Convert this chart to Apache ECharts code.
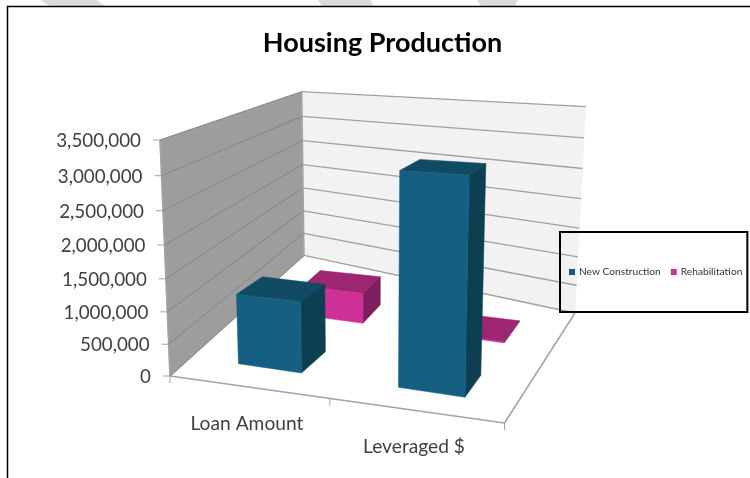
<!DOCTYPE html>
<html>
<head>
<meta charset="utf-8">
<style>html,body{margin:0;padding:0;background:#fff}#chart{width:750px;height:478px}</style>
<script src="https://cdn.jsdelivr.net/npm/echarts@6/dist/echarts.min.js"></script>
</head>
<body>
<div id="chart"></div>
<script>
// Housing production by funding measure
const categories = ['Loan Amount', 'Leveraged $'];
const newConstruction = [1115000, 3150000];
const rehabilitation = [535000, 15000];
const tickValues = [0, 500000, 1000000, 1500000, 2000000, 2500000, 3000000, 3500000];

const FONT = 'Lato, Carlito, "Open Sans", sans-serif';

// Box corners of the 3-D plot, keyed by category side, depth side, height side.
const box = {
  floorFrontLeft: [170, 376], floorFrontRight: [504.5, 423],
  floorBackLeft: [304, 255.3], floorBackRight: [575, 313],
  topFrontLeft: [160, 140], topFrontRight: [511, 161],
  topBackLeft: [301.7, 91.7], topBackRight: [585.7, 106.7]
};
const lerp = (a, b, t) => [a[0] + (b[0] - a[0]) * t, a[1] + (b[1] - a[1]) * t];

// Foreshortening along the category direction and up the height.
const warpAcross = u => u - 0.06 * u * (1 - u);
const warpHeight = h => h - 0.068 * h * (1 - h);

// Maps normalised (across, depth, height) to the page.
function project(u, w, h) {
  const uu = warpAcross(u), hh = warpHeight(h);
  const floor = lerp(lerp(box.floorFrontLeft, box.floorFrontRight, uu),
                     lerp(box.floorBackLeft, box.floorBackRight, uu), w);
  const top = lerp(lerp(box.topFrontLeft, box.topFrontRight, uu),
                   lerp(box.topBackLeft, box.topBackRight, uu), w);
  return lerp(floor, top, hh);
}

// Column positions sit on a floor that bends slightly with depth.
function projectOnFloor(u, w, h) {
  const bend = Math.min(1, Math.max(0, (0.85 - u) / 0.5));
  const capped = Math.min(w, 0.65);
  const ub = u + 0.1 * capped * capped * bend;
  const wb = w + 0.015 - 0.22 * w * w * (1 - u);
  return project(ub, wb, h);
}

// Normalises a data pair through the hidden cartesian axes.
function toUnit(params, api, cat, value) {
  const cs = params.coordSys;
  const p = api.coord([cat, value]);
  return [(p[0] - cs.x) / cs.width, (cs.y + cs.height - p[1]) / cs.height,
          api.size([1, 0])[0] / cs.width];
}

function face(points, fill) {
  return { type: 'polygon', shape: { points }, style: { fill, stroke: fill, lineWidth: 0.5 } };
}

function barRenderer(w0, w1, colors) {
  return function (params, api) {
    const [u, h, band] = toUnit(params, api, api.value(0), api.value(1));
    const u0 = u - band * 0.2, u1 = u + band * 0.2;
    const P = projectOnFloor;
    return {
      type: 'group',
      children: [
        face([P(u0, w1, h), P(u1, w1, h), P(u1, w0, h), P(u0, w0, h)], colors.top),
        face([P(u1, w0, 0), P(u1, w1, 0), P(u1, w1, h), P(u1, w0, h)], colors.side),
        face([P(u0, w0, 0), P(u1, w0, 0), P(u1, w0, h), P(u0, w0, h)], colors.front)
      ]
    };
  };
}

// Walls, floor, gridlines, ticks and labels of the value scale.
function frameRenderer(params, api) {
  const i = params.dataIndex;
  const value = api.value(0);
  const [, h] = toUnit(params, api, 0, value);
  const a = project(0, 0, h), b = project(0, 1, h), c = project(1, 1, h);
  const children = [];
  if (i === 0) {
    children.push(face([project(0, 0, 0), project(0, 1, 0), project(0, 1, 1), project(0, 0, 1)], '#9d9d9d'));
    children.push(face([project(0, 1, 0), project(1, 1, 0), project(1, 1, 1), project(0, 1, 1)], '#f2f2f2'));
    const edge = (p, q) => children.push({
      type: 'line',
      shape: { x1: p[0], y1: p[1], x2: q[0], y2: q[1] },
      style: { stroke: '#a3a3a3', lineWidth: 1.5 }
    });
    edge(project(0, 0, 0), project(1, 0, 0));
    edge(project(1, 0, 0), project(1, 1, 0));
    edge(project(0, 0, 0), project(0, 1, 0));
    edge(project(0, 0, 0), project(0, 0, 1));
    edge(project(0, 1, 0), project(0, 1, 1));
  }
  children.push(
    { type: 'polyline', shape: { points: [a, b] }, style: { stroke: '#868686', lineWidth: 1, fill: null } },
    { type: 'polyline', shape: { points: [b, c] }, style: { stroke: '#a0a0a0', lineWidth: 1.3, fill: null } },
    { type: 'line', shape: { x1: a[0] - 7, y1: a[1], x2: a[0], y2: a[1] }, style: { stroke: '#a3a3a3', lineWidth: 1 } },
    {
      type: 'text',
      style: {
        text: value.toLocaleString('en-US'),
        x: a[0] - 19, y: a[1] + 1,
        textAlign: 'right', textVerticalAlign: 'middle',
        fontFamily: FONT, fontSize: 18.8, fill: '#404040'
      }
    }
  );
  return { type: 'group', children };
}

// Category ticks along the front edge and the category names below it.
function categoryRenderer(params, api) {
  const cat = api.value(0);
  const [u, , band] = toUnit(params, api, cat, 0);
  const mid = project(u - 0.009, 0, 0);
  const right = project(u + band / 2 - 0.007 * (1 - cat), 0, 0);
  const children = [
    { type: 'line', shape: { x1: right[0], y1: right[1], x2: right[0], y2: right[1] + 7 }, style: { stroke: '#a3a3a3', lineWidth: 1 } },
    {
      type: 'text',
      style: {
        text: categories[cat],
        x: mid[0], y: mid[1] + 37,
        textAlign: 'center', textVerticalAlign: 'middle',
        fontFamily: FONT, fontSize: 19.2, fill: '#404040'
      }
    }
  ];
  if (cat === 0) {
    const left = project(0, 0, 0);
    children.push({ type: 'line', shape: { x1: left[0], y1: left[1], x2: left[0], y2: left[1] + 7 }, style: { stroke: '#a3a3a3', lineWidth: 1 } });
  }
  return { type: 'group', children };
}

const chart = echarts.init(document.getElementById('chart'), null, { renderer: 'canvas' });
chart.setOption({
  animation: false,
  backgroundColor: '#ffffff',
  title: {
    text: 'Housing Production',
    left: 377.5, top: 25, textAlign: 'center',
    textStyle: { fontFamily: FONT, fontSize: 27, fontWeight: 'bold', color: '#000' }
  },
  legend: {
    data: ['New Construction', 'Rehabilitation'],
    left: 560, top: 232,
    orient: 'horizontal',
    itemWidth: 6, itemHeight: 6, itemGap: 10,
    icon: 'rect',
    padding: [35, 5, 35, 9],
    borderColor: '#000', borderWidth: 2,
    textStyle: { fontFamily: FONT, fontSize: 10.2, color: '#333', padding: [0, 0, 0, -1] },
    z: 10
  },
  grid: { left: 0, right: 0, top: 0, bottom: 0, show: false },
  xAxis: { type: 'category', data: categories, show: false },
  yAxis: { type: 'value', min: 0, max: 3500000, interval: 500000, show: false },
  graphic: [
    { type: 'polygon', silent: true, z: -1, shape: { points: [[40, 0], [97, 0], [105, 6], [50, 6]] }, style: { fill: '#dcdcdc' } },
    { type: 'polygon', silent: true, z: -1, shape: { points: [[318, 0], [371, 0], [373, 6], [322, 6]] }, style: { fill: '#dcdcdc' } },
    { type: 'polygon', silent: true, z: -1, shape: { points: [[477, 0], [518, 0], [515, 6], [481, 6]] }, style: { fill: '#dcdcdc' } },
    { type: 'polyline', silent: true, z: 1, shape: { points: [[7.5, 478], [7.5, 6.5], [750, 6.5]] }, style: { stroke: '#000', lineWidth: 1.5, fill: null } }
  ],
  series: [
    {
      type: 'custom', coordinateSystem: 'cartesian2d', z: 1, silent: true,
      data: tickValues.map(v => [v]),
      encode: { y: 0 },
      renderItem: frameRenderer
    },
    {
      type: 'custom', coordinateSystem: 'cartesian2d', z: 1, silent: true,
      data: categories.map((c, i) => [i]),
      encode: { x: 0 },
      renderItem: categoryRenderer
    },
    {
      name: 'Rehabilitation', type: 'custom', coordinateSystem: 'cartesian2d', z: 2,
      itemStyle: { color: '#cf3097' },
      data: rehabilitation.map((v, i) => [i, v]),
      encode: { x: 0, y: 1 },
      renderItem: barRenderer(0.65, 0.85, { front: '#cf3097', top: '#9d2673', side: '#7f1f5e' })
    },
    {
      name: 'New Construction', type: 'custom', coordinateSystem: 'cartesian2d', z: 3,
      itemStyle: { color: '#156082' },
      data: newConstruction.map((v, i) => [i, v]),
      encode: { x: 0, y: 1 },
      renderItem: barRenderer(0.15, 0.35, { front: '#156082', top: '#104a64', side: '#0c3f52' })
    }
  ]
});
</script>
</body>
</html>
